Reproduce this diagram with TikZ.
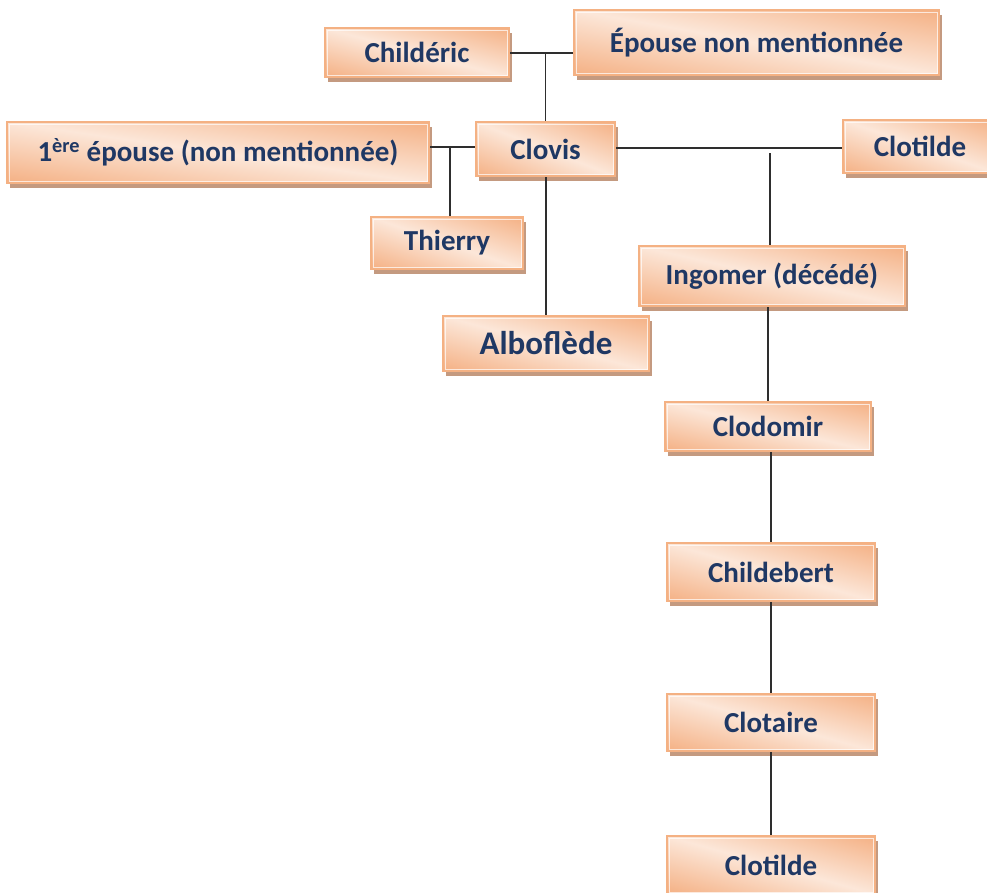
\documentclass[tikz,border=0pt]{standalone}
\usepackage{fontspec}
\setmainfont{Carlito}
\usetikzlibrary{shadows,calc}
\definecolor{boxedge}{HTML}{F4B183}
\definecolor{shadowcol}{HTML}{C49A80}
\definecolor{txtblue}{HTML}{1F3864}
\definecolor{linecol}{HTML}{2E2E2E}
% diagonal gradient: orange at top-right and bottom-left corners, light along the other diagonal
\pgfdeclarefunctionalshading{diagorange}{\pgfpointorigin}{\pgfpoint{100bp}{100bp}}{}{
  add 100 sub 50 div abs
  dup dup -0.030 mul 0.988 add 3 1 roll
  -0.215 mul 0.905 add exch
  -0.335 mul 0.850 add
}
\tikzset{
  famille/.style={draw=boxedge, line width=2pt,
    shading=diagorange, shading angle=0,
    drop shadow={shadow xshift=2.5pt, shadow yshift=-5pt, fill=shadowcol, opacity=1},
    path picture={\draw[white,opacity=0.7,line width=1pt]
      ([shift={(2pt,-2pt)}]path picture bounding box.north west) rectangle
      ([shift={(-2pt,2pt)}]path picture bounding box.south east);},
    font=\bfseries\fontsize{29}{34}\selectfont, text=txtblue, inner sep=0pt},
  lien/.style={draw=linecol, line width=1.5pt}
}
\begin{document}
\begin{tikzpicture}[x=1pt,y=-1pt]
\useasboundingbox (0,0) rectangle (987,892);
\clip (0,0) rectangle (987,892);
% boxes
\node[famille, minimum width=184pt, minimum height=49pt] (childeric) at (417,52.5) {Childéric};
\node[famille, minimum width=365pt, minimum height=65pt] (epouse) at (756.5,42.5) {\raisebox{3pt}{Épouse non mentionnée}};
\node[famille, minimum width=139pt, minimum height=54pt] (clovis) at (545.5,149) {Clovis};
\node[famille, minimum width=422pt, minimum height=61pt] (premiere) at (218,152.5) {1\textsuperscript{ère} épouse (non mentionnée)};
\node[famille, minimum width=152pt, minimum height=52pt] (thierry) at (447,243) {Thierry};
\node[famille, minimum width=206pt, minimum height=55pt, font=\bfseries\fontsize{33}{38}\selectfont] (albo) at (546,343.5) {Alboflède};
\node[famille, minimum width=154pt, minimum height=53pt] (clotildeA) at (920,146.5) {Clotilde};
\node[famille, minimum width=266pt, minimum height=60pt] (ingomer) at (772,276) {Ingomer (décédé)};
\node[famille, minimum width=206pt, minimum height=49pt] (clodomir) at (768,426.5) {\raisebox{-4pt}{Clodomir}};
\node[famille, minimum width=208pt, minimum height=58pt] (childebert) at (771,572) {Childebert};
\node[famille, minimum width=208pt, minimum height=57pt] (clotaire) at (771,722.5) {Clotaire};
\node[famille, minimum width=208pt, minimum height=58pt] (clotildeB) at (771,865) {Clotilde};
% connectors
\coordinate (j1) at ($(childeric.east)+(0,0.5)$);
\draw[lien] (j1) -- (j1 -| epouse.west);
\draw[lien] (j1 -| clovis.north) -- (clovis.north);
\coordinate (j2) at ($(clovis.west)+(0,-2)$);
\draw[lien] (j2 -| premiere.east) -- (j2);
\coordinate (j3) at (450,147);
\draw[lien] (j3) -- (j3 |- thierry.north);
\draw[lien] (albo.north |- clovis.south) -- (albo.north);
\coordinate (j4) at ($(clovis.east)+(0,-1)$);
\draw[lien] (j4) -- (j4 -| clotildeA.west);
\coordinate (j5) at (770,153);
\draw[lien] (j5) -- (j5 |- ingomer.north);
\draw[lien] (clodomir.north |- ingomer.south) -- (clodomir.north);
\draw[lien] (childebert.north |- clodomir.south) -- (childebert.north);
\draw[lien] (childebert.south) -- (clotaire.north);
\draw[lien] (clotaire.south) -- (clotildeB.north);
\end{tikzpicture}
\end{document}
